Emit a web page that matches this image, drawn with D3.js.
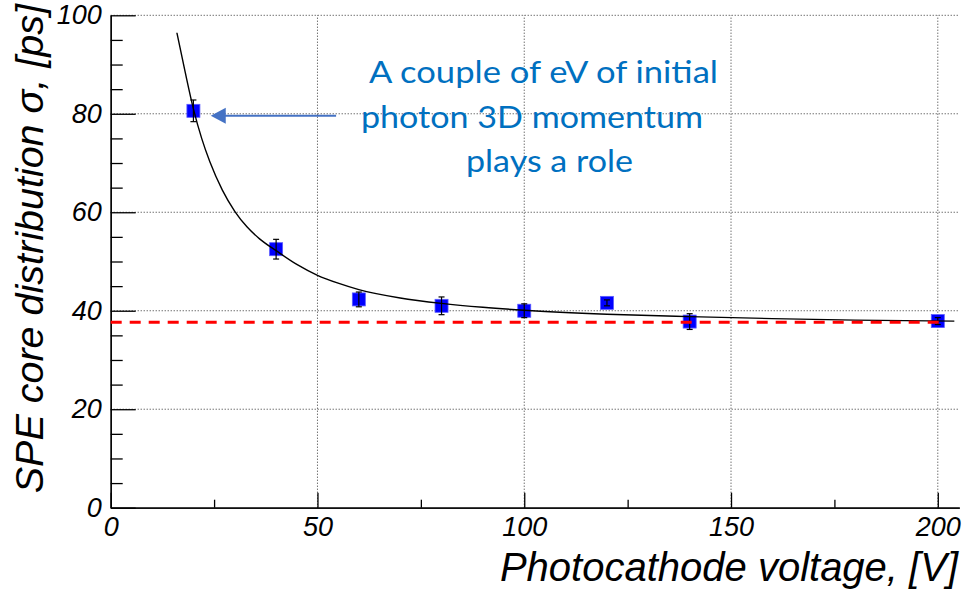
<!DOCTYPE html>
<html>
<head>
<meta charset="utf-8">
<script src="https://cdn.jsdelivr.net/npm/d3@7"></script>
<style>
  body { margin: 0; background: #fff; }
  .root-text { font-family: "Liberation Sans", Arial, sans-serif; font-style: italic; fill: #000; }
</style>
</head>
<body>
<div id="chart"></div>
<script>
// measured points
var voltage = [20, 40, 60, 80, 100, 120, 140, 200];
var sigma = [80.6, 52.5, 42.3, 41.0, 40.0, 41.6, 37.8, 37.9];
var sigmaErr = [2.2, 2.0, 1.5, 1.8, 1.4, 0.6, 1.6, 0.7];

// fit curve
var fitVoltage = [16, 18, 20, 22, 24, 27, 30, 33, 36, 40, 45, 50, 55, 60, 70, 80, 90, 100, 120, 140, 160, 180, 204];
var fitSigma = [96.5, 88.5, 81.0, 75.0, 70.2, 64.5, 60.2, 57.0, 54.6, 52.2, 49.4, 47.2, 45.6, 44.3, 42.6, 41.5, 40.7, 40.1, 39.3, 38.8, 38.4, 38.1, 37.9];

// red dashed limit
var limitVoltage = [0, 200.8];
var limitSigma = [37.65, 37.65];

var xTicks = [0, 50, 100, 150, 200];
var xMinor = [25, 75, 125, 175];
var yTicks = [0, 20, 40, 60, 80, 100];
var yMinor = [5, 10, 15, 25, 30, 35, 45, 50, 55, 65, 70, 75, 85, 90, 95];

var noteLines = ["A couple of eV of initial", "photon 3D momentum", "plays a role"];
var arrowVoltage = [54.5, 24.2];
var arrowSigma = [79.6, 79.6];

var W = 973, H = 592;

var svg = d3.select("#chart").append("svg")
    .attr("width", W)
    .attr("height", H);

var x = d3.scaleLinear().domain([0, 205.2]).range([110.7, 959.3]);
var y = d3.scaleLinear().domain([0, 100]).range([507.7, 15.3]);

// grid
var grid = svg.append("g").attr("stroke", "#333").attr("stroke-width", 1).attr("stroke-dasharray", "1,2");
grid.selectAll("line.gx").data(xTicks.filter(function (d) { return d > 0; }))
    .enter().append("line")
    .attr("x1", function (d) { return x(d); }).attr("x2", function (d) { return x(d); })
    .attr("y1", y(0)).attr("y2", y(100));
grid.selectAll("line.gy").data(yTicks.filter(function (d) { return d > 0; }))
    .enter().append("line")
    .attr("x1", x(0)).attr("x2", x(205.2))
    .attr("y1", function (d) { return y(d); }).attr("y2", function (d) { return y(d); });

// axes
svg.append("g").attr("transform", "translate(0," + y(0) + ")")
    .call(d3.axisBottom(x).tickValues(xTicks).tickSizeInner(-15).tickSizeOuter(0).tickPadding(9));
svg.append("g").attr("transform", "translate(0," + y(0) + ")")
    .call(d3.axisBottom(x).tickValues(xMinor).tickSizeInner(-8).tickSizeOuter(0).tickFormat(""));
svg.append("g").attr("transform", "translate(" + x(0) + ",0)")
    .call(d3.axisLeft(y).tickValues(yTicks).tickSizeInner(-25).tickSizeOuter(0).tickPadding(9));
svg.append("g").attr("transform", "translate(" + x(0) + ",0)")
    .call(d3.axisLeft(y).tickValues(yMinor).tickSizeInner(-12).tickSizeOuter(0).tickFormat(""));

svg.selectAll(".domain, .tick line").attr("stroke", "#000").attr("stroke-width", 1.3);
svg.selectAll(".tick text").attr("class", "root-text").style("font-size", "27px");

// markers
svg.append("g").selectAll("rect")
    .data(voltage)
    .enter().append("rect")
    .attr("x", function (d) { return x(d) - 6.5; })
    .attr("y", function (d, i) { return y(sigma[i]) - 6.5; })
    .attr("width", 13).attr("height", 13)
    .attr("fill", "#0000ff")
    .attr("stroke", "#5a5aff").attr("stroke-width", 0.8);

// error bars
var eb = svg.append("g").attr("stroke", "#000").attr("stroke-width", 1.2);
voltage.forEach(function (v, i) {
    var lo = y(sigma[i] - sigmaErr[i]), hi = y(sigma[i] + sigmaErr[i]);
    eb.append("line").attr("x1", x(v)).attr("x2", x(v)).attr("y1", lo).attr("y2", hi);
    eb.append("line").attr("x1", x(v) - 3).attr("x2", x(v) + 3).attr("y1", lo).attr("y2", lo);
    eb.append("line").attr("x1", x(v) - 3).attr("x2", x(v) + 3).attr("y1", hi).attr("y2", hi);
});

// fit curve
var fitLine = d3.line()
    .x(function (d, i) { return x(fitVoltage[i]); })
    .y(function (d, i) { return y(fitSigma[i]); })
    .curve(d3.curveMonotoneX);
svg.append("path").attr("d", fitLine(fitVoltage))
    .attr("fill", "none").attr("stroke", "#000").attr("stroke-width", 1.4);

// limit line
var limLine = d3.line()
    .x(function (d, i) { return x(limitVoltage[i]); })
    .y(function (d, i) { return y(limitSigma[i]); });
svg.append("path").attr("d", limLine(limitVoltage))
    .attr("fill", "none").attr("stroke", "#ff0000").attr("stroke-width", 3)
    .attr("stroke-dasharray", "11,8");

// axis titles
svg.append("text").attr("class", "root-text")
    .attr("x", 958).attr("y", 581)
    .attr("text-anchor", "end")
    .style("font-size", "40px")
    .text("Photocathode voltage, [V]");
svg.append("text").attr("class", "root-text")
    .attr("transform", "translate(43,4) rotate(-90)")
    .attr("text-anchor", "end")
    .style("font-size", "39.5px")
    .text("SPE core distribution \u03c3, [ps]");

// annotation
var notePos = [[369, 83, 349], [361, 128, 342], [466, 172, 167]];
svg.append("g").selectAll("text")
    .data(noteLines)
    .enter().append("text")
    .attr("x", function (d, i) { return notePos[i][0]; })
    .attr("y", function (d, i) { return notePos[i][1]; })
    .attr("textLength", function (d, i) { return notePos[i][2]; })
    .attr("lengthAdjust", "spacingAndGlyphs")
    .style("font-family", "Lato, 'Open Sans', sans-serif")
    .style("font-size", "31px")
    .attr("fill", "#0070c0")
    .text(function (d) { return d; });

var ax1 = x(arrowVoltage[0]), ax2 = x(arrowVoltage[1]), ay = y(arrowSigma[0]);
svg.append("line").attr("x1", ax1).attr("x2", ax2 + 14).attr("y1", ay).attr("y2", ay)
    .attr("stroke", "#4472c4").attr("stroke-width", 2.2);
svg.append("path")
    .attr("d", "M" + ax2 + "," + ay + "L" + (ax2 + 15) + "," + (ay - 8) + "L" + (ax2 + 15) + "," + (ay + 8) + "Z")
    .attr("fill", "#4472c4");
</script>
</body>
</html>
